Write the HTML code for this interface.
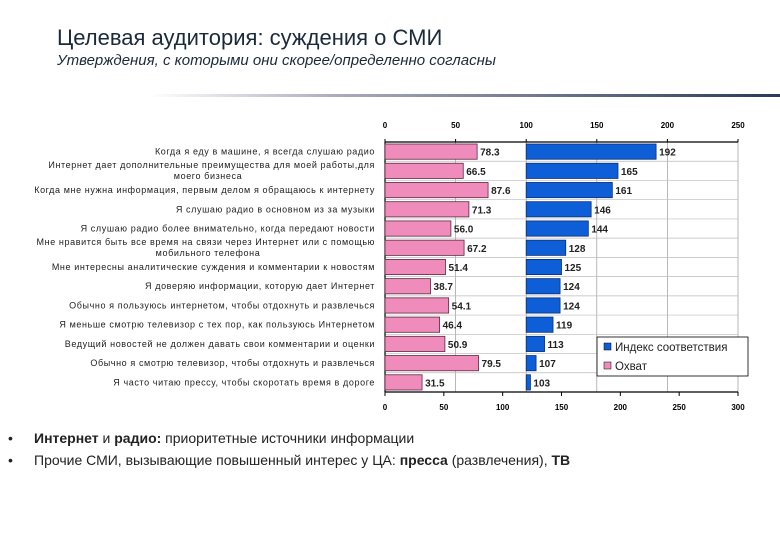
<!DOCTYPE html>
<html><head><meta charset="utf-8"><style>
body{margin:0;width:780px;height:540px;background:#fff;font-family:"Liberation Sans","Noto Sans CJK SC",sans-serif;overflow:hidden;position:relative}
.t{position:absolute;left:57px;top:25px;font-size:22px;color:#1a2a3a}
.s{position:absolute;left:57px;top:52px;font-size:15px;font-style:italic;color:#1a2a3a}
.b{position:absolute;left:8px;font-size:14px;color:#222}
.b span.d{display:inline-block;width:26px}
</style></head><body>
<div class="t">Целевая аудитория: суждения о СМИ</div>
<div class="s">Утверждения, с которыми они скорее/определенно согласны</div>
<div style="position:absolute;left:150px;top:94px;width:630px;height:3px;background:linear-gradient(90deg,#fff,#aab 30%,#2a3a5a)"></div>
<svg id="c" width="780" height="540" style="position:absolute;left:0;top:0"></svg>
<div class="b" style="top:430px"><span class="d">•</span><span><b>Интернет</b> и <b>радио:</b> приоритетные источники информации</span></div>
<div class="b" style="top:452px"><span class="d">•</span>Прочие СМИ, вызывающие повышенный интерес у ЦА: <b>пресса</b> (развлечения), <b>ТВ</b></div>
<script>
const categories=["Когда я еду в машине, я всегда слушаю радио","Интернет дает дополнительные преимущества для моей работы,для|моего бизнеса","Когда мне нужна информация, первым делом я обращаюсь к интернету","Я слушаю радио в основном из за музыки","Я слушаю радио более внимательно, когда передают новости","Мне нравится быть все время на связи через Интернет или с помощью|мобильного телефона","Мне интересны аналитические суждения и комментарии к новостям","Я доверяю информации, которую дает Интернет","Обычно я пользуюсь интернетом, чтобы отдохнуть и развлечься","Я меньше смотрю телевизор с тех пор, как пользуюсь Интернетом","Ведущий новостей не должен давать свои комментарии и оценки","Обычно я смотрю телевизор, чтобы отдохнуть и развлечься","Я часто читаю прессу, чтобы скоротать время в дороге"];
const indexValues=[192,165,161,146,144,128,125,124,124,119,113,107,103];
const reachValues=[78.3,66.5,87.6,71.3,56.0,67.2,51.4,38.7,54.1,46.4,50.9,79.5,31.5];
const topTicks=[0,50,100,150,200,250];
const bottomTicks=[0,50,100,150,200,250,300];
const NS="http://www.w3.org/2000/svg",svg=document.getElementById('c');
const X0=385,X1=738,Y0=142,Y1=392;
const xTop=v=>X0+(X1-X0)*v/250, xBot=v=>X0+(X1-X0)*v/300;
const n=categories.length,rh=(Y1-Y0)/n;
const yRow=i=>Y0+i*rh;
function mk(t,a,txt){const e=document.createElementNS(NS,t);for(const k in a)e.setAttribute(k,a[k]);if(txt!=null)e.textContent=txt;svg.appendChild(e);return e;}
topTicks.forEach(v=>{if(v>0){const g=mk('line',{x1:xTop(v),x2:xTop(v),y1:Y0,y2:Y1,stroke:'#999','stroke-width':0.7});

}});
for(let i=1;i<n;i++){const g=mk('line',{x1:X0,x2:X1,y1:yRow(i),y2:yRow(i),stroke:'#bbb','stroke-width':0.7});

}
let a=mk('line',{x1:X0,x2:X1,y1:Y0,y2:Y0,stroke:'#000','stroke-width':1.2});


a=mk('line',{x1:X0,x2:X1,y1:Y1,y2:Y1,stroke:'#000','stroke-width':1.2});


a=mk('line',{x1:X0,x2:X0,y1:Y0,y2:Y1,stroke:'#000','stroke-width':1.2});


topTicks.forEach(v=>{mk('line',{x1:xTop(v),x2:xTop(v),y1:Y0-3,y2:Y0,stroke:'#000'});
const t=mk('text',{x:xTop(v),y:Y0-14,'font-size':8,'font-weight':'bold','text-anchor':'middle'},v);

});
bottomTicks.forEach(v=>{mk('line',{x1:xBot(v),x2:xBot(v),y1:Y1,y2:Y1+4,stroke:'#000'});
const t=mk('text',{x:xBot(v),y:Y1+18,'font-size':8,'font-weight':'bold','text-anchor':'middle'},v);

});
const LS={'font-size':9,'letter-spacing':0.6,fill:'#222'};
categories.forEach((c,i)=>{
 const cy=yRow(i)+rh/2,bh=rh-4;
 const p=mk('rect',{x:X0,y:cy-bh/2,width:xBot(reachValues[i])-X0,height:bh,fill:'#f08cbc',stroke:'#5a2a40','stroke-width':0.8});
 
 
 const pl=mk('text',{x:xBot(reachValues[i])+3,y:cy+4,'font-size':10,'font-weight':'bold',fill:'#222'},reachValues[i].toFixed(1));
 
 
 const b=mk('rect',{x:xTop(100),y:cy-bh/2,width:xTop(indexValues[i])-xTop(100),height:bh,fill:'#0e5ed8',stroke:'#0a3070','stroke-width':0.8});
 
 
 const bl=mk('text',{x:xTop(indexValues[i])+3,y:cy+4,'font-size':10,'font-weight':'bold',fill:'#222'},indexValues[i]);
 
 
 const parts=c.split('|');
 if(parts.length===1){const l=mk('text',Object.assign({x:375,y:cy+3,'text-anchor':'end'},LS),c);
 
 }
 else{const l=mk('text',Object.assign({x:375,y:cy-3,'text-anchor':'end'},LS),parts[0]);
 
 
 const l2=mk('text',Object.assign({x:208,y:cy+8,'text-anchor':'middle'},LS),parts[1]);
 
 }
});
const lg=mk('rect',{x:597,y:337,width:151,height:39,fill:'#fff',stroke:'#000','stroke-width':0.8});


mk('rect',{x:604,y:343,width:7,height:7,fill:'#0e5ed8',stroke:'#000','stroke-width':0.5});
let le=mk('text',{x:615,y:351,'font-size':11.5,fill:'#222'},'Индекс соответствия');


mk('rect',{x:604,y:362,width:7,height:7,fill:'#f08cbc',stroke:'#000','stroke-width':0.5});
le=mk('text',{x:615,y:370,'font-size':11.5,fill:'#222'},'Охват');


</script>
</body></html>
